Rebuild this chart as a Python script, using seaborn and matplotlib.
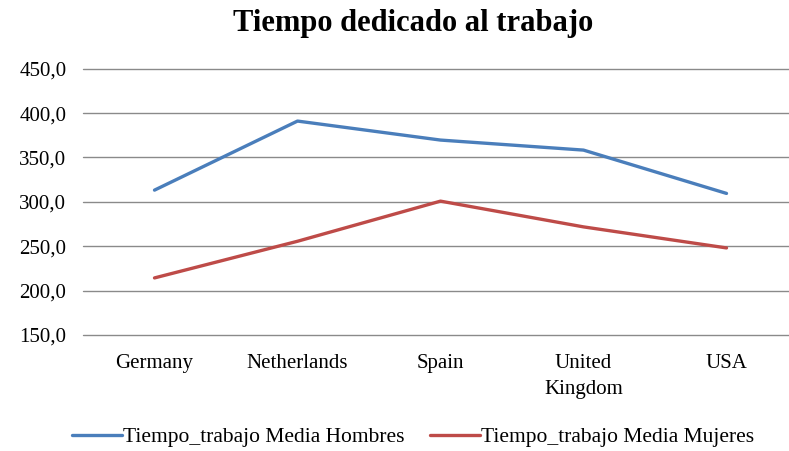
import pandas as pd
import matplotlib
matplotlib.use("Agg")
import matplotlib.pyplot as plt
import seaborn as sns

# Values
paises = ["Germany", "Netherlands", "Spain", "United\nKingdom", "USA"]
hombres = [313.2, 391.0, 369.6, 358.3, 309.5]
mujeres = [214.3, 255.6, 300.8, 271.8, 248.1]
serie_h = "Tiempo_trabajo Media Hombres"
serie_m = "Tiempo_trabajo Media Mujeres"
y_ticks = [150, 200, 250, 300, 350, 400, 450]


def build_frame():
    df_h = pd.DataFrame({"pais": paises, "valor": hombres, "serie": serie_h})
    df_m = pd.DataFrame({"pais": paises, "valor": mujeres, "serie": serie_m})
    df = pd.concat([df_h, df_m], ignore_index=True)
    df["x"] = df["pais"].map({p: i for i, p in enumerate(paises)})
    return df


def main():
    sns.set_style("white")
    plt.rcParams["font.family"] = ["Liberation Serif", "DejaVu Serif"]
    plt.rcParams["text.color"] = "black"
    plt.rcParams["xtick.color"] = "black"
    plt.rcParams["ytick.color"] = "black"

    df = build_frame()
    fig = plt.figure(figsize=(7.89, 4.51), dpi=100)
    ax = fig.add_axes([83 / 789, 1 - 335 / 451, 715 / 789, (335 - 68.7) / 451])

    sns.lineplot(data=df, x="x", y="valor", hue="serie",
                 palette={serie_h: "#4A7EBB", serie_m: "#BE4B48"},
                 linewidth=2.4, ax=ax, legend=False)

    ax.set_xlim(-0.5, len(paises) - 0.5)
    ax.set_ylim(150, 450)
    ax.set_xticks(range(len(paises)))
    ax.set_xticklabels(paises, fontsize=15, linespacing=1.45)
    ax.set_yticks(y_ticks)
    ax.set_yticklabels([f"{v:.1f}".replace(".", ",") for v in y_ticks], fontsize=15)
    ax.tick_params(axis="x", length=0, pad=14)
    ax.tick_params(axis="y", length=0, pad=12)
    ax.set_xlabel("")
    ax.set_ylabel("")
    ax.grid(axis="y", color="#8a8a8a", linewidth=1.0)
    for gl in ax.get_ygridlines():
        gl.set_clip_on(False)
    ax.set_axisbelow(True)
    for s in ax.spines.values():
        s.set_visible(False)

    fig.text(413 / 789, 1 - 23 / 451, "Tiempo dedicado al trabajo",
             ha="center", va="center", fontsize=22, fontweight="bold")

    handles = [plt.Line2D([], [], color="#4A7EBB", linewidth=2.4),
               plt.Line2D([], [], color="#BE4B48", linewidth=2.4)]
    fig.legend(handles, [serie_h, serie_m], loc="center",
               bbox_to_anchor=(413 / 789, 1 - 437 / 451), ncol=2,
               frameon=False, fontsize=15.5, handlelength=2.3,
               handletextpad=0.05, columnspacing=1.2)

    fig.savefig("out.png", dpi=100)


if __name__ == "__main__":
    main()
